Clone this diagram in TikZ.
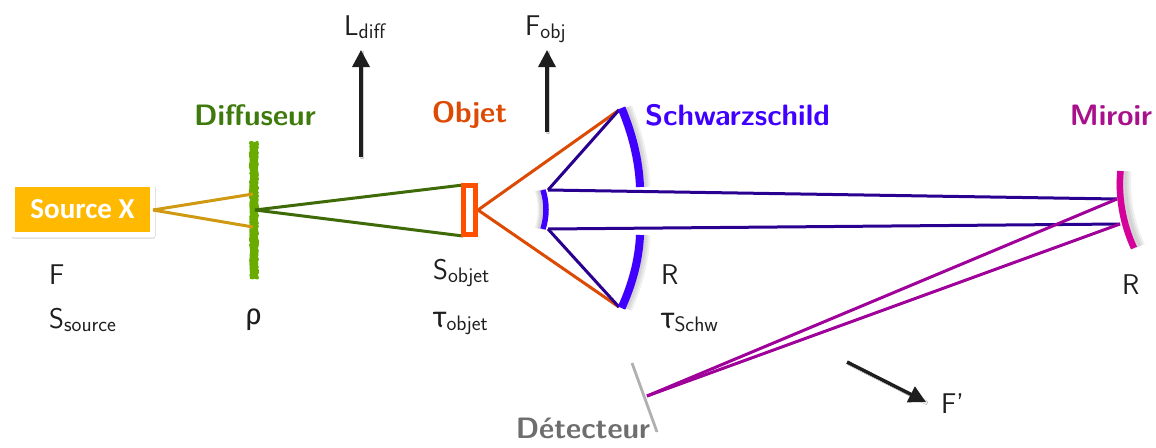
\documentclass[tikz,border=0pt]{standalone}
\usepackage{fontspec}
\setsansfont{Latin Modern Sans}
\newfontfamily\srcfont{Carlito}
\newfontfamily\grk{Fira Sans}
\usetikzlibrary{arrows.meta,decorations.pathmorphing,shadows.blur}
\definecolor{srcorange}{HTML}{FFB900}
\definecolor{srcray}{HTML}{CF9A12}
\definecolor{diffgreen}{HTML}{6AAB00}
\definecolor{diffdark}{HTML}{3F6A08}
\definecolor{diffhead}{HTML}{3E7A0C}
\definecolor{objorange}{HTML}{FF5000}
\definecolor{objray}{HTML}{DC4A04}
\definecolor{schblue}{HTML}{3F00FF}
\definecolor{raydark}{HTML}{2A0090}
\definecolor{mirpink}{HTML}{D6009A}
\definecolor{mirray}{HTML}{A0009A}
\definecolor{mirhead}{HTML}{A8108C}
\definecolor{detgray}{HTML}{B0B0B0}
\definecolor{dethead}{HTML}{6E6E6E}
\definecolor{inkdark}{HTML}{1E1E1E}
\tikzset{
  title/.style={font=\sffamily\bfseries\fontsize{29.5}{31}\selectfont,inner sep=0pt},
  lab/.style={font=\sffamily\fontsize{28.5}{30}\selectfont,text=inkdark,anchor=base west,inner sep=0pt},
  ray/.style={line width=3pt},
  force/.style={draw=inkdark,line width=3.4pt,-{Triangle[length=17pt,width=17pt]},shorten >=0pt,blur shadow={shadow blur steps=5,shadow xshift=1pt,shadow yshift=-1pt,shadow opacity=25}},
  mshadow/.style={draw=black,line cap=butt,opacity=.06},
}
\newcommand{\sub}[1]{\raisebox{-3pt}{\fontsize{21}{23}\selectfont #1}}
\begin{document}
\begin{tikzpicture}[x=1pt,y=-1pt]
\useasboundingbox (0,0) rectangle (1156,447);
\fill[white] (0,0) rectangle (1156,447);
% anchor points
\coordinate (srctip) at (153,210);
\coordinate (difft) at (253,194);
\coordinate (diffb) at (253,227);
\coordinate (diffc) at (255,210);
\coordinate (objtl) at (463,185);
\coordinate (objbl) at (463,236);
\coordinate (objr) at (478,210);
\coordinate (m1t) at (619,110);
\coordinate (m1b) at (619,307);
\coordinate (m2t) at (548,190);
\coordinate (m2b) at (548,229);
\coordinate (m3t) at (1117,199);
\coordinate (m3b) at (1120,224);
\coordinate (detc) at (647,396);
\coordinate (lda) at (361,157);
\coordinate (ldb) at (361,50);
\coordinate (foa) at (547,132);
\coordinate (fob) at (547,50);
\coordinate (fpa) at (847,362);
\coordinate (fpb) at (926,402);
% source
\node[draw=white,line width=5pt,fill=srcorange,minimum width=140pt,minimum height=50pt,inner sep=0pt,
  blur shadow={shadow blur steps=6,shadow xshift=1pt,shadow yshift=-2pt,shadow opacity=35},
  font=\srcfont\bfseries\fontsize{29}{31}\selectfont,text=white] (source) at (82.5,209.5) {Source X};
% diffuser
\fill[diffgreen,decorate,decoration={random steps,segment length=1.5pt,amplitude=.7pt}] (249.5,141.5) rectangle (258.5,279) ;
\node[inner sep=0pt] (diffuser) at (254,210) {};
% rays
\draw[srcray,ray] (srctip) -- (difft);
\draw[srcray,ray] (srctip) -- (diffb);
\draw[diffdark,ray] (diffc) -- (objtl);
\draw[diffdark,ray] (diffc) -- (objbl);
\draw[objray,ray] (objr) -- (m1t);
\draw[objray,ray] (objr) -- (m1b);
\draw[raydark,ray] (m1t) -- (m2t);
\draw[raydark,ray] (m1b) -- (m2b);
\draw[raydark,ray] (m2t) -- (m3t);
\draw[raydark,ray] (m2b) -- (m3b);
\draw[mirray,ray] (m3t) -- (detc);
\draw[mirray,ray] (m3b) -- (detc);
% object
\node[draw=objorange,line width=4.6pt,fill=white,minimum width=12.5pt,minimum height=49pt,inner sep=0pt] (object) at (469.5,210) {};
% shadows of the mirrors
\foreach \w in {15,11,7}{
\draw[mshadow,line width=\w pt] (625,108) .. controls (635,133) and (642,160) .. (643,187);
\draw[mshadow,line width=\w pt] (643,235) .. controls (642,260) and (635,285) .. (625,308);
\draw[mshadow,line width=.7*\w pt] (540,190) .. controls (544,203) and (544,216) .. (540,229);
\draw[mshadow,line width=\w pt] (1124,171) .. controls (1122,197) and (1127,224) .. (1138,247);
}
% mirrors
\draw[schblue,line width=8pt] (621.5,108) .. controls (632,133) and (639,160) .. (640,187);
\draw[schblue,line width=8pt] (640,235) .. controls (639,260) and (632,285) .. (621.5,308);
\draw[schblue,line width=5.5pt] (543,190) .. controls (547,203) and (547,216) .. (543,229);
\draw[mirpink,line width=6.5pt] (1120.5,171) .. controls (1118,197) and (1123,224) .. (1134,248);
% detector
\coordinate (dett) at (632,363);
\coordinate (detb) at (657,432);
\draw[detgray,line width=2.8pt] (dett) -- (detb);
% force arrows
\draw[force] (lda) -- (ldb);
\draw[force] (foa) -- (fob);
\draw[force] (fpa) -- (fpb);
% titles
\node[title,text=diffhead] (tdiff) at (255,115) {Diffuseur};
\node[title,text=objray] (tobj) at (469.5,115) {Objet};
\node[title,text=schblue] (tsch) at (737.5,115) {Schwarzschild};
\node[title,text=mirhead] (tmir) at (1111,115) {Miroir};
\node[title,text=dethead] (tdet) at (583,428) {Détecteur};
% labels
\node[lab] (ldiff) at (344,35) {L\sub{diff}};
\node[lab] (fobj) at (525,35) {F\sub{obj}};
\node[lab] (lf) at (49,284) {F};
\node[lab] (ss) at (49,328) {S\sub{source}};
\node[lab] (rho) at (245,324) {{\grk\fontsize{29}{31}\selectfont ρ}};
\node[lab] (sobj) at (433,279) {S\sub{objet}};
\node[lab] (tauo) at (433,327) {{\grk\fontsize{29}{31}\selectfont τ}\sub{objet}};
\node[lab] (r1) at (661,284) {R};
\node[lab] (taus) at (661,328) {{\grk\fontsize{29}{31}\selectfont τ}\sub{Schw}};
\node[lab] (r2) at (1122,294) {R};
\node[lab] (fp) at (941,413) {F'};
\end{tikzpicture}
\end{document}
